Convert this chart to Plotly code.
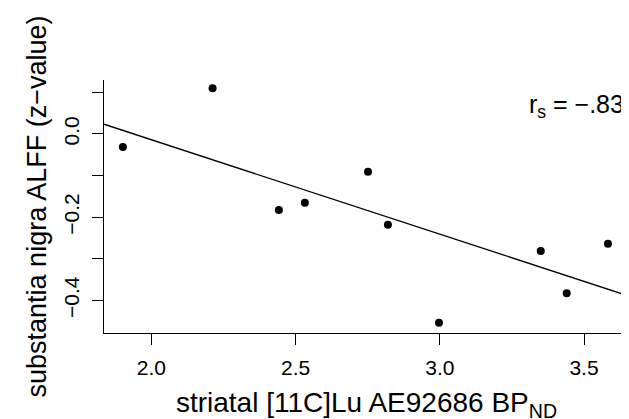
import numpy as np
import plotly.graph_objects as go

# Data
bp_nd = [1.901, 2.212, 2.442, 2.532, 2.751, 2.820, 2.997, 3.350, 3.440, 3.583]
alff_z = [-0.031, 0.110, -0.183, -0.165, -0.091, -0.218, -0.454, -0.281, -0.383, -0.264]

x_tickvals = [2.0, 2.5, 3.0, 3.5]
x_ticktext = ["2.0", "2.5", "3.0", "3.5"]
y_tickvals = [0.0, -0.2, -0.4]
y_ticktext = ["0.0", "\u22120.2", "\u22120.4"]
y_minor_tickvals = [0.1, -0.1, -0.3]

x_range = [1.8355, 3.656]
y_range = [-0.4784, 0.1298]

slope, intercept = np.polyfit(bp_nd, alff_z, 1)
line_x = np.array(x_range)
line_y = intercept + slope * line_x

FONT = "Liberation Sans, Arial, Helvetica, sans-serif"

fig = go.Figure()
fig.add_trace(go.Scatter(
    x=line_x, y=line_y, mode="lines",
    line=dict(color="black", width=1.3),
    showlegend=False, hoverinfo="skip"))
fig.add_trace(go.Scatter(
    x=bp_nd, y=alff_z, mode="markers",
    marker=dict(color="black", size=8),
    showlegend=False))

fig.add_annotation(
    x=x_range[1], y=0.0673, xref="x", yref="y",
    text="r<sub>s</sub> = \u2212.83", showarrow=False,
    xanchor="right", yanchor="middle", xshift=-3,
    font=dict(family=FONT, size=25, color="black"))

tick_style = dict(ticks="outside", ticklen=11, tickwidth=1.3, tickcolor="black")

fig.update_layout(
    width=629, height=419,
    margin=dict(l=96, r=8, t=72, b=94),
    paper_bgcolor="white", plot_bgcolor="white",
    font=dict(family=FONT, color="black"),
    xaxis=dict(
        range=x_range, tickvals=x_tickvals, ticktext=x_ticktext,
        showgrid=False, zeroline=False,
        showline=True, linecolor="black", linewidth=1.3,
        **tick_style,
        tickfont=dict(family=FONT, size=21, color="black"),
        ticklabelstandoff=5,
        title=dict(text="striatal [11C]Lu AE92686 BP<sub>ND</sub>",
                   font=dict(family=FONT, size=28, color="black"),
                   standoff=14),
    ),
    yaxis=dict(
        range=y_range, tickvals=y_tickvals, ticktext=y_ticktext,
        showgrid=False, zeroline=False,
        showline=True, linecolor="black", linewidth=1.3,
        **tick_style,
        minor=dict(tickvals=y_minor_tickvals, showgrid=False, **tick_style),
        tickangle=-90,
        tickfont=dict(family=FONT, size=21, color="black"),
        ticklabelstandoff=4,
        title=dict(text="substantia nigra ALFF (z\u2212value)",
                   font=dict(family=FONT, size=27, color="black"),
                   standoff=6),
    ),
)

fig.write_html("out.html")
